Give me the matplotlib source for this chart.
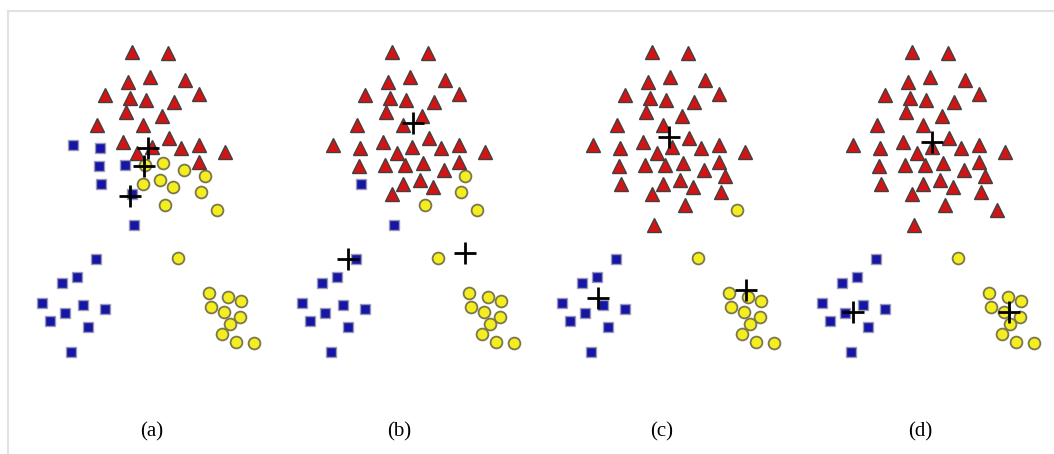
import matplotlib
matplotlib.use("Agg")
import matplotlib.pyplot as plt
from matplotlib.lines import Line2D

# Shared point coordinates (panel-local units, y grows downward)
upper_x = [335, 445, 390, 495, 325, 255, 330, 378, 462, 538, 318, 425, 230, 370,
           160, 240, 308, 447, 395, 350, 482, 538, 615, 238, 316, 376, 430, 492,
           538, 556, 420, 243, 370, 460, 335, 543, 435, 343, 590]
upper_y = [65, 70, 140, 150, 155, 195, 205, 210, 215, 193, 245, 258, 285, 285,
           345, 355, 335, 325, 350, 370, 355, 345, 365, 408, 405, 405, 400, 420,
           395, 438, 450, 462, 462, 472, 492, 487, 525, 585, 540]

# labels per panel for the upper points: r = triangle, b = square, y = circle
labels_a = ['r', 'r', 'r', 'r', 'r', 'r', 'r', 'r', 'r', 'r', 'r', 'r', 'r', 'r',
            'b', 'b', 'r', 'r', 'r', 'r', 'r', 'r', 'r', 'b', 'b', 'y', 'y', 'y',
            'r', 'y', 'y', 'b', 'y', 'y', 'b', 'y', 'y', 'b', 'y']
labels_b = ['r', 'r', 'r', 'r', 'r', 'r', 'r', 'r', 'r', 'r', 'r', 'r', 'r', 'r',
            'r', 'r', 'r', 'r', 'r', 'r', 'r', 'r', 'r', 'r', 'r', 'r', 'r', 'r',
            'r', 'y', 'r', 'b', 'r', 'r', 'r', 'y', 'y', 'b', 'y']
labels_c = ['r'] * 38 + ['y']
labels_d = ['r'] * 39

blue_x = [228, 172, 125, 65, 135, 190, 255, 90, 205, 152]
blue_y = [688, 742, 760, 818, 850, 825, 838, 873, 890, 965]
yellow_x = [475, 568, 625, 662, 572, 612, 660, 630, 605, 648, 702]
yellow_y = [685, 790, 800, 812, 832, 845, 860, 882, 913, 937, 940]

centroids_x = {'a': [385, 372, 330], 'b': [398, 205, 555], 'c': [388, 175, 617], 'd': [395, 160, 628]}
centroids_y = {'a': [355, 408, 497], 'b': [280, 688, 670], 'c': [320, 805, 780], 'd': [335, 845, 845]}

panel_names = ['a', 'b', 'c', 'd']
panel_labels = ['(a)', '(b)', '(c)', '(d)']
all_labels = [labels_a, labels_b, labels_c, labels_d]

W, H = 1054, 454
fig = plt.figure(figsize=(W / 100, H / 100), dpi=100)
fig.patch.set_facecolor('white')

# light frame
fig.add_artist(Line2D([8 / W, 1], [1 - 11 / H, 1 - 11 / H], color='#e2e2e2', lw=1.5, transform=fig.transFigure))
fig.add_artist(Line2D([8 / W, 8 / W], [0, 1 - 11 / H], color='#e2e2e2', lw=1.5, transform=fig.transFigure))

style = {
    'r': dict(marker='^', color='#d41414', mec='#404040', ms=9.5, mew=1.0),
    'b': dict(marker='s', color='#1616a6', mec='#9a9ab8', ms=7.5, mew=1.0),
    'y': dict(marker='o', color='#f4ee1e', mec='#7a7650', ms=8.5, mew=1.3),
}

panel_left = [20, 280, 540, 800]
label_x = [152, 399, 662, 920]
for i, name in enumerate(panel_names):
    ax = fig.add_axes([panel_left[i] / W, 1 - (30 + 340) / H, 250 / W, 340 / H])
    ax.set_xlim(0, 750)
    ax.set_ylim(1020, 0)
    ax.axis('off')
    labs = all_labels[i]
    for k in ['b', 'y', 'r']:
        xs = [x for x, l in zip(upper_x, labs) if l == k]
        ys = [y for y, l in zip(upper_y, labs) if l == k]
        if k == 'b':
            xs += blue_x; ys += blue_y
        if k == 'y':
            xs += yellow_x; ys += yellow_y
        ax.plot(xs, ys, ls='none', **style[k])
    ax.plot(centroids_x[name], centroids_y[name], ls='none', marker='+', color='black',
            ms=16, mew=2.0)
    fig.text(label_x[i] / W, 1 - 432 / H, panel_labels[i], ha='center', va='center',
             fontsize=15, family='Liberation Serif')

fig.savefig('out.png', dpi=100)
